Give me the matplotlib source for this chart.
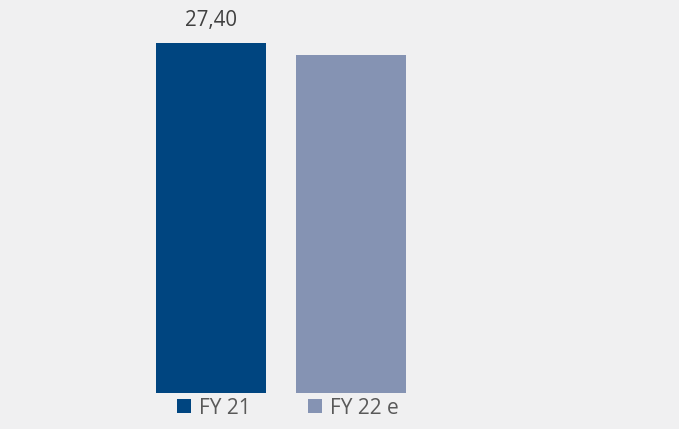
import matplotlib
matplotlib.use("Agg")
import matplotlib.pyplot as plt
from matplotlib.patches import Patch

# values
categories = ["FY 21", "FY 22 e"]
values = [27.40, 26.46]
labels = ["27,40", ""]
colors = ["#004580", "#8593b3"]

plt.rcParams['font.family'] = ['Open Sans', 'DejaVu Sans']

W, H = 679, 429
fig = plt.figure(figsize=(W / 100, H / 100), dpi=100)
fig.patch.set_facecolor("#f0f0f1")

# axes placed in pixels: bars from x=156 to 406, base at y=393, top of first bar at y=43
bar_w = 110 / 140
left, right = 156, 406
bottom, top = 393, 43
ax = fig.add_axes([left / W, (H - bottom) / H, (right - left) / W, (bottom - top) / H])
ax.set_facecolor("none")

x = list(range(len(categories)))
bars = ax.bar(x, values, width=bar_w, color=colors)
ax.set_xlim(-bar_w / 2, 1 + bar_w / 2)
ax.set_ylim(0, values[0])

for b, lab in zip(bars, labels):
    if lab:
        ax.annotate(lab, (b.get_x() + b.get_width() / 2, b.get_height()),
                    xytext=(0, 8.5), textcoords="offset points",
                    ha="center", va="bottom", fontsize=14.8, color="#404040",
                    annotation_clip=False)

ax.axis("off")

handles = [Patch(facecolor=c, edgecolor="none") for c in colors]
fig.legend(handles, categories, loc="center", bbox_to_anchor=(288 / W, 1 - 408 / H),
           ncol=2, frameon=False, fontsize=15, labelcolor="#595959",
           handlelength=0.68, handleheight=0.68, handletextpad=0.4,
           columnspacing=2.72)

fig.savefig("out.png", dpi=100, facecolor=fig.get_facecolor())
